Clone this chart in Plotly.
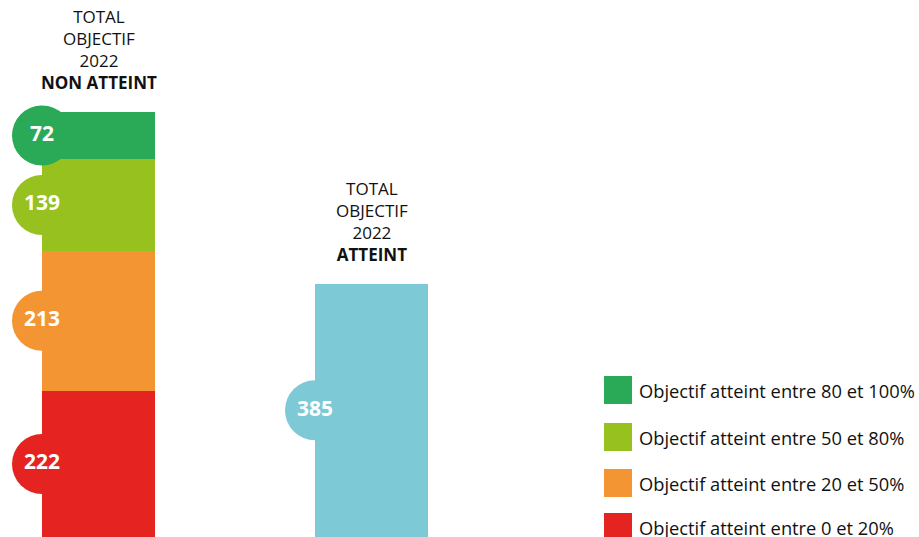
import plotly.graph_objects as go

# ---- data ----
categories = ["Objectif atteint entre 0 et 20%", "Objectif atteint entre 20 et 50%",
              "Objectif atteint entre 50 et 80%", "Objectif atteint entre 80 et 100%"]
non_atteint_values = [222, 213, 139, 72]
segment_colors = ["#E52421", "#F49533", "#96C11F", "#2AAA56"]
atteint_value = 385
atteint_color = "#7EC9D6"
bar_titles = ["TOTAL<br>OBJECTIF<br>2022<br><b>NON ATTEINT</b>",
              "TOTAL<br>OBJECTIF<br>2022<br><b>ATTEINT</b>"]

W, H = 919, 537
bar_x = [0, 1]
bar_w = 0.414
FONT = "Open Sans"

fig = go.Figure()

# stacked bar (non atteint)
base = 0
mids = []
for val, col in zip(non_atteint_values, segment_colors):
    fig.add_trace(go.Bar(x=[bar_x[0]], y=[val], base=[base], width=[bar_w],
                         marker=dict(color=col, line=dict(width=0)),
                         showlegend=False, hoverinfo="skip"))
    mids.append(base + val / 2)
    base += val
total_non = base

# atteint bar
fig.add_trace(go.Bar(x=[bar_x[1]], y=[atteint_value], base=[0], width=[bar_w],
                     marker=dict(color=atteint_color, line=dict(width=0)),
                     showlegend=False, hoverinfo="skip"))

# circle labels
for val, col, m in zip(non_atteint_values, segment_colors, mids):
    fig.add_trace(go.Scatter(x=[bar_x[0] - bar_w / 2], y=[m], mode="markers+text",
                             marker=dict(size=60, color=col, line=dict(width=0)),
                             text=[f"<b>{val}</b>"], textposition="middle center",
                             textfont=dict(family=FONT, size=21, color="white"),
                             cliponaxis=False, showlegend=False, hoverinfo="skip"))
fig.add_trace(go.Scatter(x=[bar_x[1] - bar_w / 2], y=[atteint_value / 2], mode="markers+text",
                         marker=dict(size=60, color=atteint_color, line=dict(width=0)),
                         text=[f"<b>{atteint_value}</b>"], textposition="middle center",
                         textfont=dict(family=FONT, size=21, color="white"),
                         cliponaxis=False, showlegend=False, hoverinfo="skip"))

annotations = []
for xv, top, t in zip(bar_x, [total_non, atteint_value], bar_titles):
    annotations.append(dict(x=xv, y=top, xref="x", yref="y", text=t, showarrow=False,
                            xanchor="center", yanchor="bottom", yshift=16, align="center",
                            font=dict(family=FONT, size=17, color="#111111")))

# manual legend (top to bottom: 80-100, 50-80, 20-50, 0-20)
shapes = []
leg_centers = [390, 437, 483, 527]
for i, (cat, col) in enumerate(zip(categories[::-1], segment_colors[::-1])):
    cy = leg_centers[i]
    shapes.append(dict(type="rect", xref="paper", yref="paper",
                       x0=604 / W, x1=632 / W, y0=1 - (cy + 14) / H, y1=1 - (cy - 14) / H,
                       fillcolor=col, line=dict(width=0)))
    annotations.append(dict(x=637 / W, y=1 - cy / H, xref="paper", yref="paper", text=cat,
                            showarrow=False, xanchor="left", yanchor="middle",
                            font=dict(family=FONT, size=18.3, color="#111111")))

x0 = -(98.5 / 273)
x1 = (W - 98.5) / 273
fig.update_layout(
    width=W, height=H, margin=dict(l=0, r=0, t=0, b=0),
    paper_bgcolor="white", plot_bgcolor="white",
    barmode="overlay", bargap=0,
    xaxis=dict(range=[x0, x1], visible=False, fixedrange=True),
    yaxis=dict(range=[0, 816], visible=False, fixedrange=True),
    shapes=shapes, annotations=annotations,
)

fig.write_html("out.html")
